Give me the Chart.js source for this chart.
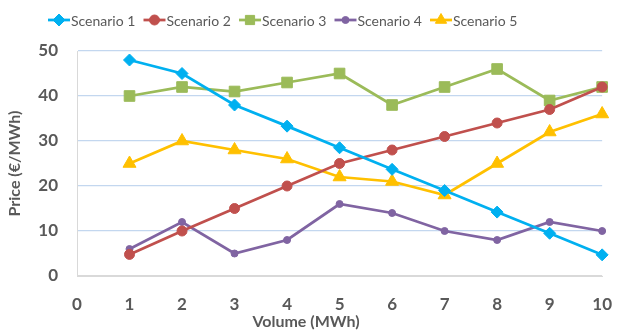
<!DOCTYPE html>
<html>
<head>
<meta charset="utf-8">
<script src="https://cdn.jsdelivr.net/npm/chart.js@4.4.1/dist/chart.umd.min.js"></script>
<style>
  html, body { margin: 0; padding: 0; background: #ffffff; }
  #wrap { width: 630px; height: 331px; position: relative; }
</style>
</head>
<body>
<div id="wrap"><canvas id="chart"></canvas></div>
<script>
// Volume steps on the horizontal axis
const volumes = [1, 2, 3, 4, 5, 6, 7, 8, 9, 10];

// Price per scenario (€/MWh)
const scenarioNames = ['Scenario 1', 'Scenario 2', 'Scenario 3', 'Scenario 4', 'Scenario 5'];
const scenario1 = [48, 45, 38, 33.3, 28.5, 23.7, 19, 14.2, 9.5, 4.7];
const scenario2 = [4.8, 10, 15, 20, 25, 28, 31, 34, 37, 42];
const scenario3 = [40, 42, 41, 43, 45, 38, 42, 46, 39, 42];
const scenario4 = [6, 12, 5, 8, 16, 14, 10, 8, 12, 10];
const scenario5 = [25, 30, 28, 26, 22, 21, 18, 25, 32, 36];

// Axis ticks
const xTicks = [0, 1, 2, 3, 4, 5, 6, 7, 8, 9, 10];
const yTicks = [0, 5, 10, 15, 20, 25, 30, 35, 40, 45, 50];

const xTitle = 'Volume (MWh)';
const yTitle = 'Price (€/MWh)';

const textColor = '#595959';
const gridColor = '#c3d7ef';
const axisColor = '#d9d9d9';

const styles = [
  { color: '#00b0f0', point: 'rectRot',  radius: 6 },
  { color: '#c0504d', point: 'circle',   radius: 5 },
  { color: '#9bbb59', point: 'rect',     radius: 7.5 },
  { color: '#8064a2', point: 'circle',   radius: 3.5 },
  { color: '#ffc000', point: 'triangle', radius: 7.5 }
];

const seriesValues = [scenario1, scenario2, scenario3, scenario4, scenario5];

const datasets = seriesValues.map((vals, i) => ({
  label: scenarioNames[i],
  data: vals.map((v, j) => ({ x: volumes[j], y: v })),
  borderColor: styles[i].color,
  backgroundColor: styles[i].color,
  borderWidth: 2.75,
  pointStyle: styles[i].point,
  pointRadius: styles[i].radius,
  pointBorderWidth: 1,
  pointHoverRadius: styles[i].radius,
  tension: 0,
  clip: false
}));

function drawMarker(ctx, style, x, y) {
  const r = style.radius;
  ctx.save();
  ctx.fillStyle = style.color;
  ctx.strokeStyle = style.color;
  ctx.lineWidth = 1;
  ctx.beginPath();
  if (style.point === 'circle') {
    ctx.arc(x, y, r, 0, Math.PI * 2);
  } else if (style.point === 'rectRot') {
    ctx.moveTo(x - r, y); ctx.lineTo(x, y - r); ctx.lineTo(x + r, y); ctx.lineTo(x, y + r);
    ctx.closePath();
  } else if (style.point === 'rect') {
    const s = r * Math.SQRT1_2;
    ctx.rect(x - s, y - s, 2 * s, 2 * s);
  } else if (style.point === 'triangle') {
    for (let k = 0; k < 3; k++) {
      const a = k * 2 * Math.PI / 3;
      const px = x + Math.sin(a) * r, py = y - Math.cos(a) * r;
      if (k === 0) ctx.moveTo(px, py); else ctx.lineTo(px, py);
    }
    ctx.closePath();
  }
  ctx.fill();
  ctx.stroke();
  ctx.restore();
}

// Legend row across the top and the two axis titles
const decorations = {
  id: 'decorations',
  afterDraw(chart) {
    const ctx = chart.ctx;
    const area = chart.chartArea;
    ctx.save();
    ctx.font = '14px Lato';
    ctx.textBaseline = 'middle';
    ctx.textAlign = 'left';
    const y = 20;
    const pitch = 95.5;
    scenarioNames.forEach((name, i) => {
      const x = 48 + i * pitch;
      const st = styles[i];
      ctx.strokeStyle = st.color;
      ctx.lineWidth = 2.75;
      ctx.beginPath();
      ctx.moveTo(x, y);
      ctx.lineTo(x + 22, y);
      ctx.stroke();
      drawMarker(ctx, { ...st, radius: Math.min(st.radius, 6.5) }, x + 11, y);
      ctx.fillStyle = textColor;
      ctx.fillText(name, x + 23, y + 1);
    });

    ctx.font = 'bold 16px Lato';
    ctx.fillStyle = textColor;
    ctx.textAlign = 'center';
    ctx.fillText(xTitle, 306, 322);

    ctx.translate(15, (area.top + area.bottom) / 2);
    ctx.rotate(-Math.PI / 2);
    ctx.fillText(yTitle, 0, 0);
    ctx.restore();
  }
};

new Chart(document.getElementById('chart'), {
  type: 'line',
  data: { datasets },
  plugins: [decorations],
  options: {
    responsive: true,
    maintainAspectRatio: false,
    animation: false,
    layout: { padding: { top: 51, right: 12, left: 0, bottom: 0 } },
    plugins: {
      legend: { display: false },
      tooltip: { enabled: false }
    },
    scales: {
      x: {
        type: 'linear',
        min: xTicks[0],
        max: xTicks[xTicks.length - 1],
        afterBuildTicks(scale) { scale.ticks = xTicks.map(v => ({ value: v })); },
        afterFit(scale) { scale.height = 55; },
        ticks: {
          color: textColor,
          font: { family: 'Lato', size: 17, weight: 'bold' },
          padding: 18,
          maxRotation: 0,
          autoSkip: false
        },
        grid: { display: false, drawTicks: false },
        border: { display: true, color: axisColor, width: 1 }
      },
      y: {
        min: yTicks[0],
        max: yTicks[yTicks.length - 1],
        afterBuildTicks(scale) { scale.ticks = yTicks.map(v => ({ value: v })); },
        afterFit(scale) { scale.width = 77; },
        ticks: {
          color: textColor,
          font: { family: 'Lato', size: 17, weight: 'bold' },
          padding: 19
        },
        grid: {
          color: ctx => (ctx.tick && ctx.tick.value === 0 ? axisColor : gridColor),
          lineWidth: 1.25,
          drawTicks: false
        },
        border: { display: true, color: axisColor, width: 1 }
      }
    }
  }
});
</script>
</body>
</html>
